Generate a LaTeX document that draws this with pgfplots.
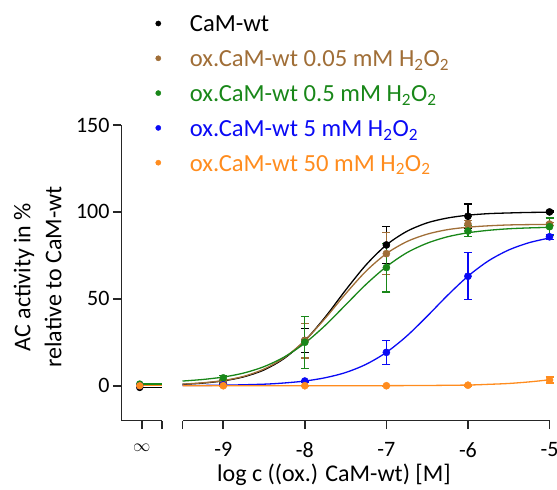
\documentclass[border=0pt]{standalone}
\usepackage{fontspec}
\setmainfont{Carlito}
\usepackage{pgfplots}
\pgfplotsset{compat=1.18}

\definecolor{cbrown}{RGB}{160,110,55}
\definecolor{cgreen}{RGB}{25,135,25}
\definecolor{cblue}{RGB}{10,10,245}
\definecolor{corange}{RGB}{255,140,30}

\pgfplotsset{
  brk/.style={scale only axis, anchor=south west, height=295.5pt,
    ymin=-20, ymax=150,
    tick align=outside, major tick length=8.5pt,
    axis line style={-, line width=1.6pt, black!85},
    tick style={line width=1.6pt, black!85},
    tick label style={font=\fontsize{22}{26}\selectfont},
    label style={font=\fontsize{24}{31}\selectfont}},
  fitline/.style={#1, line width=1.3pt, smooth, no marks, forget plot},
  pts/.style={#1, only marks, mark=*, mark size=3.6pt,
    /pgfplots/error bars/y dir=both, /pgfplots/error bars/y explicit,
    /pgfplots/error bars/error bar style={line width=1.3pt, #1},
    /pgfplots/error bars/error mark options={rotate=90, mark size=4pt, line width=1.3pt, #1},
    legend image code/.code={\draw[#1, mark=*, only marks, mark size=2.6pt] plot coordinates {(0pt,0pt)};}},
  inf/.style={#1, line width=1.3pt, mark=*, mark size=3pt, mark indices={1}, forget plot}
}

\begin{document}
\begin{tikzpicture}
\path[use as bounding box] (0,0) rectangle (557pt,490pt);

% left piece: the value at "infinity" (no CaM)
\begin{axis}[brk, at={(121.5pt,69.5pt)}, width=40.5pt, xmin=0, xmax=1,
  axis x line*=bottom, axis y line*=left,
  xtick={0.5,1}, xticklabels={$\infty$,{}},
  xticklabel style={font=\fontsize{18}{20}\selectfont, yshift=-12pt},
  ytick={0,50,100,150}, yticklabels={0,50,100,150},
  ylabel={AC activity in \%\\relative to CaM-wt},
  ylabel style={at={(axis description cs:-2.07,0.4856)}, anchor=center, align=center}]
\addplot[inf=black] coordinates {(0.45,-1)(1,-1)};
\addplot[inf=cbrown] coordinates {(0.45,0.3)(1,0.3)};
\addplot[inf=cgreen] coordinates {(0.45,1)(1,1)};
\addplot[inf=cblue] coordinates {(0.45,0)(1,0)};
\addplot[inf=corange] coordinates {(0.45,0)(1,0)};
\end{axis}

% main piece
\begin{axis}[brk, at={(182.5pt,69.5pt)}, width=367pt, xmin=-9.5, xmax=-5,
  axis x line*=bottom, axis y line=none, ytick=\empty, clip=false,
  xtick={-9.5,-9,-8,-7,-6,-5}, xticklabels={{},-9,-8,-7,-6,-5},
  xticklabel style={yshift=-10pt},
  xlabel={log c ((ox.) CaM-wt) [M]},
  xlabel style={at={(axis description cs:0.4128,-0.2071)}, anchor=base},
  legend cell align=left,
  legend style={draw=none, fill=none, inner sep=0pt, anchor=north west,
    at={(axis description cs:-0.0736,1.3902)},
    column sep=29pt, row sep=7.6pt,
    font=\fontsize{24.6}{30}\selectfont,
    nodes={inner sep=0pt, text height=22pt, text depth=5.2pt}}]

\addplot[fitline=black] coordinates {
  (-9.5,0.8)(-9.25,1.5)(-9,2.8)(-8.75,5.1)(-8.5,9.1)(-8.25,15.8)(-8,25.9)
  (-7.75,39.5)(-7.5,55.0)(-7.25,69.5)(-7,81.0)(-6.75,88.8)(-6.5,93.7)
  (-6.25,96.5)(-6,98.1)(-5.75,99.0)(-5.5,99.4)(-5.25,99.7)(-5,99.8)};
\addplot[pts=black] coordinates {
  (-9,1.5) +- (0,1) (-8,26) +- (0,7) (-7,81) +- (0,10.5)
  (-6,97.5) +- (0,7) (-5,100) +- (0,0.5)};
\addlegendentry{CaM-wt}

\addplot[fitline=cbrown] coordinates {
  (-9.5,0.9)(-9.25,1.7)(-9,3.0)(-8.75,5.4)(-8.5,9.6)(-8.25,16.2)(-8,26.0)
  (-7.75,38.8)(-7.5,52.9)(-7.25,65.9)(-7,76.0)(-6.75,82.9)(-6.5,87.2)
  (-6.25,89.8)(-6,91.2)(-5.75,92.0)(-5.5,92.5)(-5.25,92.7)(-5,92.8)};
\addplot[pts=cbrown] coordinates {
  (-9,2.5) +- (0,1) (-8,26) +- (0,10) (-7,76) +- (0,12)
  (-6,93) +- (0,2) (-5,93) +- (0,1)};
\addlegendentry{\textcolor{cbrown}{ox.CaM-wt 0.05 mM H\textsubscript{2}O\textsubscript{2}}}

\addplot[fitline=cgreen] coordinates {
  (-9.5,2.7)(-9.25,3.6)(-9,5.0)(-8.75,7.3)(-8.5,11.0)(-8.25,16.6)(-8,24.5)
  (-7.75,34.7)(-7.5,46.5)(-7.25,58.3)(-7,68.5)(-6.75,76.5)(-6.5,82.0)
  (-6.25,85.7)(-6,88.0)(-5.75,89.4)(-5.5,90.3)(-5.25,90.8)(-5,91.1)};
\addplot[pts=cgreen] coordinates {
  (-9,4.5) +- (0,1.5) (-8,25) +- (0,15) (-7,68) +- (0,14)
  (-6,89) +- (0,3) (-5,91.5) +- (0,5)};
\addlegendentry{\textcolor{cgreen}{ox.CaM-wt 0.5 mM H\textsubscript{2}O\textsubscript{2}}}

\addplot[fitline=cblue] coordinates {
  (-9.5,0.1)(-9,0.3)(-8.5,0.9)(-8.25,1.6)(-8,2.7)(-7.75,4.6)(-7.5,7.6)
  (-7.25,12.3)(-7,19.2)(-6.75,28.6)(-6.5,40.0)(-6.25,52.0)(-6,63.0)
  (-5.75,71.8)(-5.5,78.1)(-5.25,82.3)(-5,85.0)};
\addplot[pts=cblue] coordinates {
  (-9,0.5) +- (0,0.3) (-8,2.7) +- (0,0.5) (-7,19.2) +- (0,7)
  (-6,63) +- (0,13.5) (-5,85.7) +- (0,1.5)};
\addlegendentry{\textcolor{cblue}{ox.CaM-wt 5 mM H\textsubscript{2}O\textsubscript{2}}}

\addplot[fitline=corange] coordinates {
  (-9.5,0)(-9,0)(-8,0)(-7,0.05)(-6.5,0.15)(-6,0.4)(-5.75,0.8)
  (-5.5,1.3)(-5.25,2.2)(-5,3.4)};
\addplot[pts=corange] coordinates {
  (-9,0) +- (0,0.2) (-8,0) +- (0,0.2) (-7,0) +- (0,0.3)
  (-6,0.3) +- (0,0.5) (-5,3.3) +- (0,1.8)};
\addlegendentry{\textcolor{corange}{ox.CaM-wt 50 mM H\textsubscript{2}O\textsubscript{2}}}
\end{axis}
\end{tikzpicture}
\end{document}
